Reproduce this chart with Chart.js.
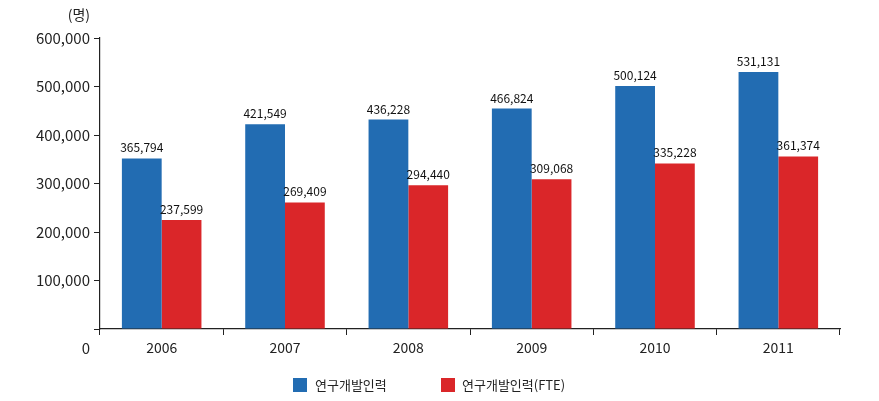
<!DOCTYPE html>
<html><head><meta charset="utf-8">
<script src="https://cdn.jsdelivr.net/npm/chart.js@4.4.1/dist/chart.umd.min.js"></script>
<style>html,body{margin:0;padding:0;background:#fff}#wrap{width:879px;height:401px;position:relative}</style>
</head><body><div id="wrap"><canvas id="c" width="879" height="401"></canvas></div>
<script>
const categories = ['2006','2007','2008','2009','2010','2011'];
const seriesNames = ['연구개발인력','연구개발인력(FTE)'];
const researchers = [351600, 422200, 431900, 454600, 501100, 530000];
const researchersFTE = [224500, 261000, 296600, 309000, 341300, 355700];
const researchersLabels = ['365,794','421,549','436,228','466,824','500,124','531,131'];
const researchersFTELabels = ['237,599','269,409','294,440','309,068','335,228','361,374'];
const yTicks = [0,100000,200000,300000,400000,500000,600000];
const unitLabel = '(명)';

const FONT = "'Noto Sans CJK KR','Noto Sans',sans-serif";
const labelSets = [researchersLabels, researchersFTELabels];
const legendPos = [{box:293, text:315}, {box:441, text:462}];

const extras = {
  id:'extras',
  afterDatasetsDraw(chart){
    const ctx = chart.ctx;
    ctx.save();
    ctx.font = '12px ' + FONT;
    ctx.fillStyle = '#111';
    ctx.textAlign = 'center';
    ctx.textBaseline = 'alphabetic';
    chart.data.datasets.forEach((ds,i)=>{
      chart.getDatasetMeta(i).data.forEach((bar,j)=>{
        ctx.fillText(labelSets[i][j], bar.x, bar.y - 6);
      });
    });
    const ys = chart.scales.y;
    ctx.font = '15px ' + FONT;
    ctx.fillStyle = '#222';
    ctx.textAlign = 'right';
    ctx.textBaseline = 'middle';
    ctx.fillText('0', ys.right - 10, 348);
    ctx.font = '14px ' + FONT;
    ctx.fillText(unitLabel, ys.right - 10, 15);
    // legend
    ctx.font = '13px ' + FONT;
    ctx.textAlign = 'left';
    chart.data.datasets.forEach((ds,i)=>{
      ctx.fillStyle = ds.backgroundColor;
      ctx.fillRect(legendPos[i].box, 378, 14, 14);
      ctx.fillStyle = '#222';
      ctx.fillText(ds.label, legendPos[i].text, 385.5);
    });
    ctx.restore();
  }
};

new Chart(document.getElementById('c'), {
  type:'bar',
  data:{
    labels:categories,
    datasets:[
      {label:seriesNames[0], data:researchers, backgroundColor:'#226cb2', borderWidth:0, categoryPercentage:0.645, barPercentage:1},
      {label:seriesNames[1], data:researchersFTE, backgroundColor:'#da2629', borderWidth:0, categoryPercentage:0.645, barPercentage:1}
    ]
  },
  options:{
    responsive:false, animation:false,
    devicePixelRatio:1,
    layout:{padding:{top:38, right:39, left:0, bottom:42}},
    plugins:{
      legend:{display:false},
      tooltip:{enabled:false}
    },
    scales:{
      x:{
        grid:{display:true, offset:true, drawOnChartArea:false, tickLength:6, color:'#222'},
        border:{color:'#222', width:1.2},
        ticks:{font:{family:FONT,size:14}, color:'#222', padding:4},
        afterFit(s){ s.height = 30; }
      },
      y:{
        min:0, max:600000,
        afterBuildTicks(s){ s.ticks = yTicks.map(v=>({value:v})); },
        grid:{display:true, drawOnChartArea:false, tickLength:6, color:'#222'},
        border:{color:'#222', width:1.2},
        ticks:{font:{family:FONT,size:15}, color:'#222', padding:4,
          callback:(v)=> v===0 ? '' : v.toLocaleString('en-US')},
        afterFit(s){ s.width = 100; }
      }
    }
  },
  plugins:[extras]
});
</script></body></html>
